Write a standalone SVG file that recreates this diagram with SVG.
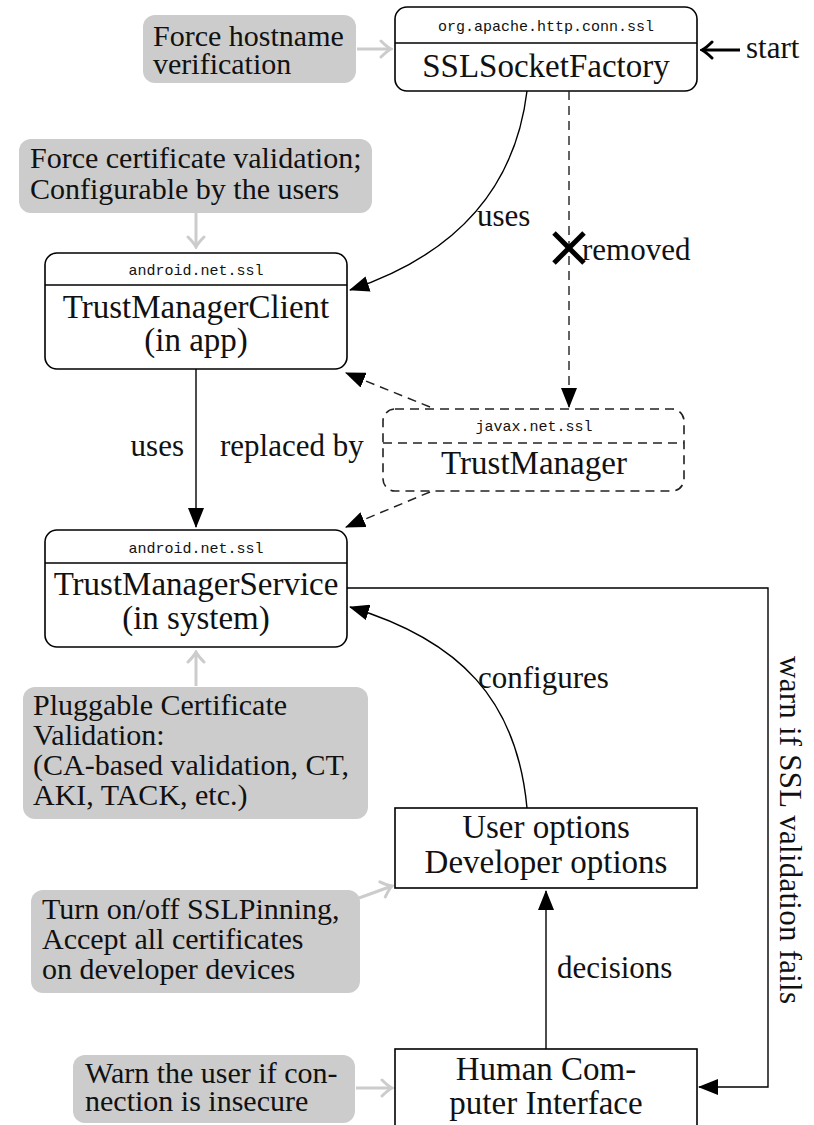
<svg xmlns="http://www.w3.org/2000/svg" width="814" height="1125" viewBox="0 0 814 1125">
  <defs>
    <marker id="tri" markerUnits="userSpaceOnUse" markerWidth="20" markerHeight="16" viewBox="0 0 20 16" refX="19" refY="8" orient="auto">
      <path d="M0,0 L20,8 L0,16 Z" fill="#000"/>
    </marker>
    <marker id="grey-open" markerUnits="userSpaceOnUse" markerWidth="14" markerHeight="20" viewBox="0 0 14 20" refX="12" refY="10" orient="auto">
      <path d="M2,2 Q8,8 12,10 Q8,12 2,18" fill="none" stroke="#cccccc" stroke-width="3" stroke-linecap="round"/>
    </marker>
    <marker id="black-open" markerUnits="userSpaceOnUse" markerWidth="14" markerHeight="20" viewBox="0 0 14 20" refX="12" refY="10" orient="auto">
      <path d="M2,2 Q8,8 12,10 Q8,12 2,18" fill="none" stroke="#000" stroke-width="3" stroke-linecap="round"/>
    </marker>
  </defs>
  <style>
    .serif { font-family: "Liberation Serif", "DejaVu Serif", serif; font-size: 30px; fill: #111; }
    .label { font-family: "Liberation Serif", "DejaVu Serif", serif; font-size: 31px; fill: #111; }
    .big { font-family: "Liberation Serif", "DejaVu Serif", serif; font-size: 33px; fill: #111; text-anchor: middle; }
    .pkg { font-family: "Liberation Mono", "DejaVu Sans Mono", monospace; font-size: 15px; fill: #111; text-anchor: middle; }
    .node { fill: #fff; stroke: #000; stroke-width: 1.6; }
    .dashed { fill: #fff; stroke: #222; stroke-width: 1.6; stroke-dasharray: 9 6; }
    .note { fill: #cccccc; }
    .edge { fill: none; stroke: #000; stroke-width: 1.4; }
    .edge-dash { fill: none; stroke: #222; stroke-width: 1.4; stroke-dasharray: 9 6; }
    .hint { fill: none; stroke: #cccccc; stroke-width: 3; }
  </style>

  <!-- grey annotation notes -->
  <g id="note-hostname">
    <rect class="note" x="143" y="15" width="213" height="68" rx="12"/>
    <text class="serif" x="153" y="46">Force hostname</text>
    <text class="serif" x="153" y="74">verification</text>
  </g>
  <g id="note-certificate">
    <rect class="note" x="19" y="139" width="353" height="74" rx="12"/>
    <text class="serif" x="30" y="168">Force certificate validation;</text>
    <text class="serif" x="30" y="199">Configurable by the users</text>
  </g>
  <g id="note-pluggable">
    <rect class="note" x="23" y="687" width="345" height="132" rx="12"/>
    <text class="serif" x="33" y="715">Pluggable Certificate</text>
    <text class="serif" x="33" y="745">Validation:</text>
    <text class="serif" x="33" y="775">(CA-based validation, CT,</text>
    <text class="serif" x="33" y="805">AKI, TACK, etc.)</text>
  </g>
  <g id="note-pinning">
    <rect class="note" x="31" y="890" width="329" height="103" rx="12"/>
    <text class="serif" x="42" y="919">Turn on/off SSLPinning,</text>
    <text class="serif" x="42" y="949">Accept all certificates</text>
    <text class="serif" x="42" y="979">on developer devices</text>
  </g>
  <g id="note-warn">
    <rect class="note" x="73" y="1055" width="282" height="68" rx="12"/>
    <text class="serif" x="85" y="1083">Warn the user if con-</text>
    <text class="serif" x="85" y="1111">nection is insecure</text>
  </g>

  <!-- class nodes -->
  <g id="ssl-socket-factory">
    <rect class="node" x="395" y="7" width="302" height="84" rx="12"/>
    <line class="edge" x1="395" y1="43" x2="697" y2="43"/>
    <text class="pkg" x="546" y="31">org.apache.http.conn.ssl</text>
    <text class="big" x="546" y="77">SSLSocketFactory</text>
  </g>
  <g id="trust-manager-client">
    <rect class="node" x="45" y="253" width="302" height="116" rx="12"/>
    <line class="edge" x1="45" y1="285" x2="347" y2="285"/>
    <text class="pkg" x="196" y="275">android.net.ssl</text>
    <text class="big" x="196" y="318">TrustManagerClient</text>
    <text class="big" x="196" y="351">(in app)</text>
  </g>
  <g id="trust-manager">
    <rect class="dashed" x="383" y="409" width="301" height="82" rx="12"/>
    <line class="edge-dash" x1="383" y1="443" x2="684" y2="443"/>
    <text class="pkg" x="534" y="431">javax.net.ssl</text>
    <text class="big" x="534" y="474">TrustManager</text>
  </g>
  <g id="trust-manager-service">
    <rect class="node" x="45" y="530" width="302" height="117" rx="12"/>
    <line class="edge" x1="45" y1="563" x2="347" y2="563"/>
    <text class="pkg" x="196" y="553">android.net.ssl</text>
    <text class="big" x="196" y="595">TrustManagerService</text>
    <text class="big" x="196" y="629">(in system)</text>
  </g>
  <g id="options">
    <rect class="node" x="395" y="808" width="302" height="80"/>
    <text class="big" x="546" y="838">User options</text>
    <text class="big" x="546" y="873">Developer options</text>
  </g>
  <g id="hci">
    <rect class="node" x="395" y="1049" width="302" height="100"/>
    <text class="big" x="546" y="1080">Human Com-</text>
    <text class="big" x="546" y="1114">puter Interface</text>
  </g>

  <!-- connectors -->
  <g id="connectors">
    <!-- grey hints from notes -->
    <line class="hint" x1="357" y1="49" x2="391" y2="49" marker-end="url(#grey-open)"/>
    <line class="hint" x1="196" y1="213" x2="196" y2="247" marker-end="url(#grey-open)"/>
    <line class="hint" x1="196" y1="686" x2="196" y2="652" marker-end="url(#grey-open)"/>
    <line class="hint" x1="359" y1="898" x2="392" y2="886" marker-end="url(#grey-open)"/>
    <line class="hint" x1="356" y1="1088" x2="392" y2="1088" marker-end="url(#grey-open)"/>

    <!-- start -->
    <line x1="740" y1="50" x2="702" y2="50" stroke="#000" stroke-width="3" marker-end="url(#black-open)"/>
    <text class="label" x="746" y="58">start</text>

    <!-- SSLSocketFactory uses TrustManagerClient -->
    <path class="edge" d="M527,91 C515,190 455,255 350,290" marker-end="url(#tri)"/>
    <text class="label" x="477" y="226">uses</text>

    <!-- removed link to TrustManager -->
    <line class="edge-dash" x1="569" y1="91" x2="569" y2="407" marker-end="url(#tri)"/>
    <g stroke="#000" stroke-width="5">
      <line x1="554" y1="233" x2="584" y2="263"/>
      <line x1="584" y1="233" x2="554" y2="263"/>
    </g>
    <text class="label" x="582" y="260">removed</text>

    <!-- TrustManager replaced by client/service -->
    <path class="edge-dash" d="M430,407 L346,373" marker-end="url(#tri)"/>
    <path class="edge-dash" d="M430,492 L346,527" marker-end="url(#tri)"/>
    <text class="label" x="220" y="456">replaced by</text>

    <!-- client uses service -->
    <line class="edge" x1="196" y1="369" x2="196" y2="527" marker-end="url(#tri)"/>
    <text class="label" x="184" y="456" text-anchor="end">uses</text>

    <!-- warn path -->
    <path class="edge" d="M347,588 H768 V1087 H699" marker-end="url(#tri)"/>
    <text class="label" transform="translate(780,830) rotate(90)" text-anchor="middle" textLength="348" lengthAdjust="spacing">warn if SSL validation fails</text>

    <!-- options configures service -->
    <path class="edge" d="M527,808 C517,700 460,640 350,607" marker-end="url(#tri)"/>
    <text class="label" x="478" y="688">configures</text>

    <!-- HCI decisions -->
    <line class="edge" x1="546" y1="1049" x2="546" y2="891" marker-end="url(#tri)"/>
    <text class="label" x="557" y="978">decisions</text>
  </g>
</svg>
